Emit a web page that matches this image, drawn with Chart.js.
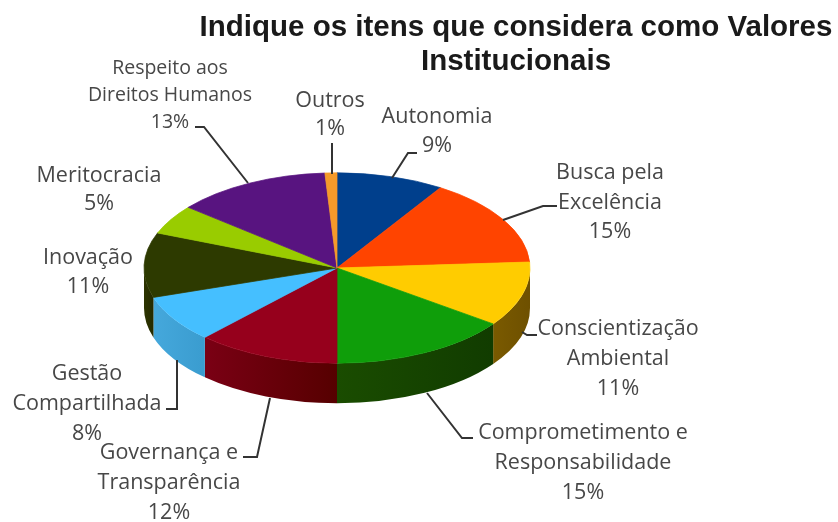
<!DOCTYPE html>
<html>
<head>
    <meta charset="utf-8">
    <style>
        html, body { margin: 0; padding: 0; background: #fff; }
        canvas { display: block; }
    </style>
    <script src="https://cdn.jsdelivr.net/npm/chart.js"></script>
</head>
<body>
    <canvas id="valoresChart" width="838" height="522"></canvas>

    <script>
    const titleLines = ["Indique os itens que considera como Valores", "Institucionais"];
    const categories = [
      "Autonomia", "Busca pela Excelência", "Conscientização Ambiental",
      "Comprometimento e Responsabilidade", "Governança e Transparência",
      "Gestão Compartilhada", "Inovação", "Meritocracia",
      "Respeito aos Direitos Humanos", "Outros"
    ];
    const percentages = [9, 15, 11, 15, 12, 8, 11, 5, 13, 1];

    const topColors = ["#003f8c", "#ff4400", "#ffcc00", "#0f9e0a", "#96001c", "#45bfff", "#2d3a00", "#99cc00", "#581480", "#f59a2a"];
    const sideLeft = ["#002a5c", "#a82d00", "#7a5a00", "#1a4c00", "#7a0014", "#45a8dc", "#2d3400", "#667f00", "#3a0d55", "#a06418"];
    const sideRight = ["#002a5c", "#a82d00", "#6e5000", "#113c00", "#560000", "#3a9ccf", "#242a00", "#667f00", "#3a0d55", "#a06418"];

    // label text, one entry per slice; the percentage line is appended when drawn
    const labelLines = [
      ["Autonomia"], ["Busca pela", "Excelência"], ["Conscientização", "Ambiental"],
      ["Comprometimento e", "Responsabilidade"], ["Governança e", "Transparência"],
      ["Gestão", "Compartilhada"], ["Inovação"], ["Meritocracia"],
      ["Respeito aos", "Direitos Humanos"], ["Outros"]
    ];

    // where each label sits (centre x, first line y, line step) and its leader line
    const labelPlaces = [
      { x: 437, y: 117, step: 29, leader: [[417, 153], [408, 153], [392, 178]] },
      { x: 610, y: 173, step: 29.5, leader: [[557, 206], [543, 206], [503, 220]] },
      { x: 618, y: 329, step: 30, leader: [[537, 335], [527, 335], [522, 332]] },
      { x: 583, y: 433, step: 30, leader: [[473, 438], [462, 438], [427, 393]] },
      { x: 169, y: 453, step: 30, leader: [[243, 457], [257, 457], [270, 398]] },
      { x: 87, y: 374, step: 30, leader: [[166, 409], [177, 409], [177, 360]] },
      { x: 88, y: 258, step: 29, leader: null },
      { x: 99, y: 176, step: 28, leader: null },
      { x: 170, y: 68, step: 27, size: 19.5, leader: [[195, 127], [204, 127], [248, 183]] },
      { x: 330, y: 101, step: 28, leader: [[332, 143], [332, 174]] }
    ];

    // the flat pie is squashed onto an ellipse and given a wall underneath
    const pieCenter = { x: 337, y: 268 };
    const pieRadius = 193;
    const tilt = 0.493;
    const wallDepth = 40;

    const tiltedPie = {
      id: "tiltedPie",
      beforeDatasetDraw(chart) {
        const ctx = chart.ctx;
        const arcs = chart.getDatasetMeta(0).data;
        const rx = arcs[0].outerRadius;
        const ry = rx * tilt;

        arcs.forEach((arc, i) => {
          // only the front half of the rim can be seen
          const from = Math.max(arc.startAngle, 0);
          const to = Math.min(arc.endAngle, Math.PI);
          if (to <= from) return;
          const wall = ctx.createLinearGradient(pieCenter.x + rx * Math.cos(from), 0, pieCenter.x + rx * Math.cos(to), 0);
          wall.addColorStop(0, sideRight[i]);
          wall.addColorStop(1, sideLeft[i]);
          ctx.beginPath();
          ctx.ellipse(pieCenter.x, pieCenter.y, rx, ry, 0, from, to);
          ctx.ellipse(pieCenter.x, pieCenter.y + wallDepth, rx, ry, 0, to, from, true);
          ctx.closePath();
          ctx.fillStyle = wall;
          ctx.fill();
        });

        ctx.save();
        ctx.translate(pieCenter.x, pieCenter.y);
        ctx.scale(1, tilt);
        ctx.translate(-arcs[0].x, -arcs[0].y);
      },
      afterDatasetDraw(chart) {
        chart.ctx.restore();
      }
    };

    const sliceLabels = {
      id: "sliceLabels",
      afterDraw(chart) {
        const ctx = chart.ctx;
        ctx.save();
        ctx.strokeStyle = "#333333";
        ctx.lineWidth = 2;
        ctx.fillStyle = "#474747";
        ctx.textAlign = "center";
        ctx.textBaseline = "middle";
        labelPlaces.forEach((place, i) => {
          ctx.font = (place.size || 21.5) + "px 'Open Sans'";
          labelLines[i].concat(percentages[i] + "%").forEach((line, n) => {
            ctx.fillText(line, place.x, place.y + n * place.step);
          });
          if (place.leader) {
            ctx.beginPath();
            place.leader.forEach(([x, y], n) => n ? ctx.lineTo(x, y) : ctx.moveTo(x, y));
            ctx.stroke();
          }
        });
        ctx.restore();
      }
    };

    new Chart(document.getElementById("valoresChart"), {
      type: "pie",
      data: {
        labels: categories,
        datasets: [{
          data: percentages,
          backgroundColor: topColors,
          borderColor: topColors,
          borderWidth: 1,
          radius: pieRadius,
          clip: false
        }]
      },
      options: {
        responsive: false,
        animation: false,
        layout: { padding: { left: 194 } },
        plugins: {
          legend: { display: false },
          tooltip: { enabled: false },
          title: {
            display: true,
            text: titleLines,
            color: "#1a1a1a",
            font: { family: "'Liberation Sans'", size: 29.5, weight: "bold", lineHeight: 1.15 },
            padding: { top: 11, bottom: 4 }
          }
        }
      },
      plugins: [tiltedPie, sliceLabels]
    });
    </script>
</body>
</html>
